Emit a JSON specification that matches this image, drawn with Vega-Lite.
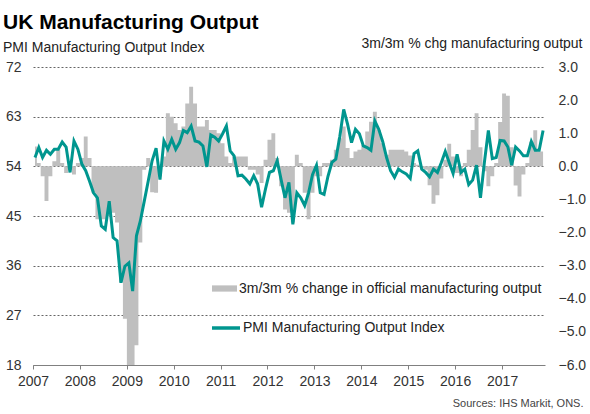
{
  "$schema": "https://vega.github.io/schema/vega-lite/v6.json",
  "width": 512,
  "height": 298,
  "autosize": {"type": "none"},
  "padding": {"left": 33, "top": 67, "right": 45, "bottom": 49},
  "background": "white",
  "config": {"font": "Liberation Sans", "view": {"stroke": null}},
  "title": {
    "text": "UK Manufacturing Output",
    "subtitle": "PMI Manufacturing Output Index",
    "anchor": "start",
    "frame": "group",
    "dx": -30,
    "dy": 31,
    "offset": 12,
    "font": "Liberation Sans",
    "fontSize": 21,
    "fontWeight": "bold",
    "color": "#000000",
    "subtitleFont": "Liberation Sans",
    "subtitleFontSize": 14,
    "subtitleColor": "#222222",
    "subtitlePadding": 8
  },
  "data": {
    "format": {"parse": {"date": "date:'%Y-%m'"}},
    "values": [
      {"date": "2007-01", "pmi": 55.6, "chg": 0.6},
      {"date": "2007-02", "pmi": 57.4, "chg": 0.1},
      {"date": "2007-03", "pmi": 55.6, "chg": -0.3},
      {"date": "2007-04", "pmi": 56.9, "chg": -1.05},
      {"date": "2007-05", "pmi": 56.2, "chg": -0.3},
      {"date": "2007-06", "pmi": 57.1, "chg": 0.15},
      {"date": "2007-07", "pmi": 57.1, "chg": 0.5},
      {"date": "2007-08", "pmi": 58.4, "chg": 0.1},
      {"date": "2007-09", "pmi": 57.5, "chg": -0.2},
      {"date": "2007-10", "pmi": 52.9, "chg": -0.1},
      {"date": "2007-11", "pmi": 58.6, "chg": -0.25},
      {"date": "2007-12", "pmi": 57.1, "chg": 0.1},
      {"date": "2008-01", "pmi": 54.4, "chg": 0.25},
      {"date": "2008-02", "pmi": 53.2, "chg": 0.9},
      {"date": "2008-03", "pmi": 51.3, "chg": 0.25},
      {"date": "2008-04", "pmi": 49.2, "chg": -0.8},
      {"date": "2008-05", "pmi": 48.3, "chg": -1.6},
      {"date": "2008-06", "pmi": 43.2, "chg": -1.6},
      {"date": "2008-07", "pmi": 42.6, "chg": -1.6},
      {"date": "2008-08", "pmi": 47.7, "chg": -1.5},
      {"date": "2008-09", "pmi": 41.1, "chg": -1.4},
      {"date": "2008-10", "pmi": 40.5, "chg": -1.7},
      {"date": "2008-11", "pmi": 32.9, "chg": -3.5},
      {"date": "2008-12", "pmi": 35.9, "chg": -4.6},
      {"date": "2009-01", "pmi": 36.5, "chg": -6.5},
      {"date": "2009-02", "pmi": 31.4, "chg": -6.5},
      {"date": "2009-03", "pmi": 41.4, "chg": -5.4},
      {"date": "2009-04", "pmi": 44.1, "chg": -2.3},
      {"date": "2009-05", "pmi": 47.7, "chg": -0.1},
      {"date": "2009-06", "pmi": 51.3, "chg": 0.25},
      {"date": "2009-07", "pmi": 55.0, "chg": -0.78},
      {"date": "2009-08", "pmi": 57.3, "chg": -0.8},
      {"date": "2009-09", "pmi": 51.6, "chg": -0.3},
      {"date": "2009-10", "pmi": 58.6, "chg": 0.3},
      {"date": "2009-11", "pmi": 57.1, "chg": 1.6},
      {"date": "2009-12", "pmi": 58.9, "chg": 1.5},
      {"date": "2010-01", "pmi": 57.1, "chg": 1.3},
      {"date": "2010-02", "pmi": 58.3, "chg": 1.1},
      {"date": "2010-03", "pmi": 60.5, "chg": 1.2},
      {"date": "2010-04", "pmi": 60.1, "chg": 1.9},
      {"date": "2010-05", "pmi": 61.3, "chg": 2.4},
      {"date": "2010-06", "pmi": 58.6, "chg": 1.9},
      {"date": "2010-07", "pmi": 58.4, "chg": 1.2},
      {"date": "2010-08", "pmi": 57.7, "chg": 1.2},
      {"date": "2010-09", "pmi": 53.9, "chg": 1.4},
      {"date": "2010-10", "pmi": 59.7, "chg": 1.1},
      {"date": "2010-11", "pmi": 59.3, "chg": 1.1},
      {"date": "2010-12", "pmi": 58.6, "chg": 1.0},
      {"date": "2011-01", "pmi": 59.9, "chg": 0.7},
      {"date": "2011-02", "pmi": 61.3, "chg": 0.3},
      {"date": "2011-03", "pmi": 56.8, "chg": 0.1},
      {"date": "2011-04", "pmi": 55.9, "chg": 0.3},
      {"date": "2011-05", "pmi": 52.3, "chg": 0.3},
      {"date": "2011-06", "pmi": 52.4, "chg": 0.3},
      {"date": "2011-07", "pmi": 51.7, "chg": 0.3},
      {"date": "2011-08", "pmi": 50.8, "chg": -0.1},
      {"date": "2011-09", "pmi": 52.3, "chg": -0.1},
      {"date": "2011-10", "pmi": 50.8, "chg": -0.25},
      {"date": "2011-11", "pmi": 46.6, "chg": -0.5},
      {"date": "2011-12", "pmi": 49.9, "chg": 0.2},
      {"date": "2012-01", "pmi": 52.9, "chg": 0.8},
      {"date": "2012-02", "pmi": 53.2, "chg": 1.0},
      {"date": "2012-03", "pmi": 55.0, "chg": 0.25},
      {"date": "2012-04", "pmi": 51.6, "chg": -0.6},
      {"date": "2012-05", "pmi": 48.3, "chg": -1.3},
      {"date": "2012-06", "pmi": 51.1, "chg": -1.4},
      {"date": "2012-07", "pmi": 43.5, "chg": -1.7},
      {"date": "2012-08", "pmi": 49.2, "chg": 0.35},
      {"date": "2012-09", "pmi": 48.3, "chg": 0.1},
      {"date": "2012-10", "pmi": 46.9, "chg": -0.8},
      {"date": "2012-11", "pmi": 49.2, "chg": -1.6},
      {"date": "2012-12", "pmi": 52.5, "chg": -0.8},
      {"date": "2013-01", "pmi": 54.2, "chg": -0.3},
      {"date": "2013-02", "pmi": 49.2, "chg": -0.3},
      {"date": "2013-03", "pmi": 48.9, "chg": 0.1},
      {"date": "2013-04", "pmi": 52.2, "chg": 0.1},
      {"date": "2013-05", "pmi": 54.7, "chg": 0.2},
      {"date": "2013-06", "pmi": 55.3, "chg": 0.5},
      {"date": "2013-07", "pmi": 59.3, "chg": 0.85},
      {"date": "2013-08", "pmi": 64.3, "chg": 1.2},
      {"date": "2013-09", "pmi": 61.6, "chg": 0.55},
      {"date": "2013-10", "pmi": 58.3, "chg": 0.25},
      {"date": "2013-11", "pmi": 60.7, "chg": 0.45},
      {"date": "2013-12", "pmi": 59.9, "chg": 0.5},
      {"date": "2014-01", "pmi": 57.7, "chg": 0.65},
      {"date": "2014-02", "pmi": 57.4, "chg": 1.05},
      {"date": "2014-03", "pmi": 56.9, "chg": 1.35},
      {"date": "2014-04", "pmi": 62.2, "chg": 1.65},
      {"date": "2014-05", "pmi": 60.7, "chg": 1.1},
      {"date": "2014-06", "pmi": 58.5, "chg": 0.7},
      {"date": "2014-07", "pmi": 55.6, "chg": 0.35},
      {"date": "2014-08", "pmi": 53.2, "chg": 0.5},
      {"date": "2014-09", "pmi": 52.0, "chg": 0.5},
      {"date": "2014-10", "pmi": 53.5, "chg": 0.5},
      {"date": "2014-11", "pmi": 53.0, "chg": 0.5},
      {"date": "2014-12", "pmi": 52.6, "chg": 0.45},
      {"date": "2015-01", "pmi": 51.8, "chg": 0.33},
      {"date": "2015-02", "pmi": 56.3, "chg": 0.1},
      {"date": "2015-03", "pmi": 56.8, "chg": 0.05},
      {"date": "2015-04", "pmi": 53.5, "chg": -0.05},
      {"date": "2015-05", "pmi": 52.9, "chg": -0.1},
      {"date": "2015-06", "pmi": 52.1, "chg": -0.57},
      {"date": "2015-07", "pmi": 53.5, "chg": -1.13},
      {"date": "2015-08", "pmi": 52.9, "chg": -0.87},
      {"date": "2015-09", "pmi": 54.7, "chg": -0.37},
      {"date": "2015-10", "pmi": 56.7, "chg": 0.2},
      {"date": "2015-11", "pmi": 54.7, "chg": 0.68},
      {"date": "2015-12", "pmi": 52.7, "chg": 0.3},
      {"date": "2016-01", "pmi": 56.2, "chg": -0.2},
      {"date": "2016-02", "pmi": 52.9, "chg": -0.3},
      {"date": "2016-03", "pmi": 53.5, "chg": 0.1},
      {"date": "2016-04", "pmi": 50.7, "chg": 0.5},
      {"date": "2016-05", "pmi": 51.5, "chg": 1.1},
      {"date": "2016-06", "pmi": 54.2, "chg": 1.6},
      {"date": "2016-07", "pmi": 48.3, "chg": 0.58},
      {"date": "2016-08", "pmi": 54.8, "chg": -0.15},
      {"date": "2016-09", "pmi": 60.5, "chg": -0.6},
      {"date": "2016-10", "pmi": 55.4, "chg": -0.3},
      {"date": "2016-11", "pmi": 55.6, "chg": 0.1},
      {"date": "2016-12", "pmi": 58.7, "chg": 1.34},
      {"date": "2017-01", "pmi": 58.6, "chg": 2.2},
      {"date": "2017-02", "pmi": 57.5, "chg": 2.13},
      {"date": "2017-03", "pmi": 54.2, "chg": 0.58},
      {"date": "2017-04", "pmi": 57.5, "chg": -0.58},
      {"date": "2017-05", "pmi": 56.8, "chg": -0.91},
      {"date": "2017-06", "pmi": 55.9, "chg": -0.25},
      {"date": "2017-07", "pmi": 55.9, "chg": 0.1},
      {"date": "2017-08", "pmi": 58.5, "chg": 0.74},
      {"date": "2017-09", "pmi": 56.9, "chg": 1.09},
      {"date": "2017-10", "pmi": 56.9, "chg": 0.45},
      {"date": "2017-11", "pmi": 60.5, "chg": 0.45}
    ]
  },
  "layer": [
    {
      "mark": {"type": "area", "clip": true, "interpolate": "step", "color": "#bfbfbf"},
      "encoding": {
        "x": {
          "field": "date",
          "timeUnit": "yearmonth",
          "type": "temporal",
          "bandPosition": 0.5,
          "scale": {"domain": [{"year": 2007, "month": 1, "date": 1}, {"year": 2017, "month": 12, "date": 1}], "nice": false},
          "axis": {
            "tickCount": {"interval": "year", "step": 1},
            "format": "%Y",
            "labelFlush": false,
            "labelOverlap": false,
            "labelFontSize": 14,
            "labelColor": "#333333",
            "labelPadding": 5,
            "domainColor": "#808080",
            "tickColor": "#808080",
            "tickSize": 4,
            "grid": false,
            "title": "Sources: IHS Markit, ONS.",
            "titleX": 550,
            "titleY": 38,
            "titleAlign": "right",
            "titleAnchor": null,
            "titleBaseline": "middle",
            "titleFontSize": 11,
            "titleFontWeight": "normal",
            "titleColor": "#444444"
          }
        },
        "y": {
          "field": "chg",
          "type": "quantitative",
          "scale": {"domain": [-6, 3], "nice": false, "zero": false},
          "axis": {
            "orient": "right",
            "values": [-6, -5, -4, -3, -2, -1, 0, 1, 2, 3],
            "format": ".1f",
            "grid": false,
            "domain": false,
            "ticks": false,
            "labelPadding": 13,
            "labelFontSize": 14,
            "labelColor": "#333333",
            "title": "3m/3m % chg manufacturing output",
            "titleAngle": 0,
            "titleX": 37,
            "titleY": -20,
            "titleAlign": "right",
            "titleBaseline": "alphabetic",
            "titleFontSize": 14,
            "titleFontWeight": "normal",
            "titleColor": "#222222"
          }
        },
        "y2": {"datum": 0},
        "fill": {
          "datum": "3m/3m % change in official manufacturing output",
          "type": "nominal",
          "scale": {"range": ["#bfbfbf"]},
          "legend": {
            "orient": "none",
            "legendX": 179,
            "legendY": 209,
            "title": null,
            "padding": 0,
            "symbolType": "M-1,-0.25H1V0.25H-1Z",
            "symbolSize": 625,
            "symbolStrokeWidth": 0,
            "labelFontSize": 14,
            "labelLimit": 400,
            "labelColor": "#222222",
            "labelOffset": 2
          }
        }
      }
    },
    {
      "mark": {"type": "line", "strokeWidth": 3},
      "encoding": {
        "x": {"field": "date", "timeUnit": "yearmonth", "type": "temporal", "bandPosition": 0.5},
        "y": {
          "field": "pmi",
          "type": "quantitative",
          "scale": {"domain": [18, 72], "nice": false, "zero": false},
          "axis": {
            "orient": "left",
            "values": [18, 27, 36, 45, 54, 63, 72],
            "grid": true,
            "gridColor": "#666666",
            "gridDash": [2, 2],
            "domain": false,
            "ticks": false,
            "labelPadding": 12,
            "labelFontSize": 14,
            "labelColor": "#333333",
            "title": null
          }
        },
        "stroke": {
          "datum": "PMI Manufacturing Output Index",
          "type": "nominal",
          "scale": {"range": ["#00968f"]},
          "legend": {
            "orient": "none",
            "legendX": 177,
            "legendY": 245,
            "title": null,
            "padding": 0,
            "symbolType": "stroke",
            "symbolSize": 784,
            "symbolStrokeWidth": 3.5,
            "labelFontSize": 14,
            "labelLimit": 400,
            "labelColor": "#222222",
            "labelOffset": 1
          }
        }
      }
    }
  ],
  "resolve": {"scale": {"y": "independent"}}
}
